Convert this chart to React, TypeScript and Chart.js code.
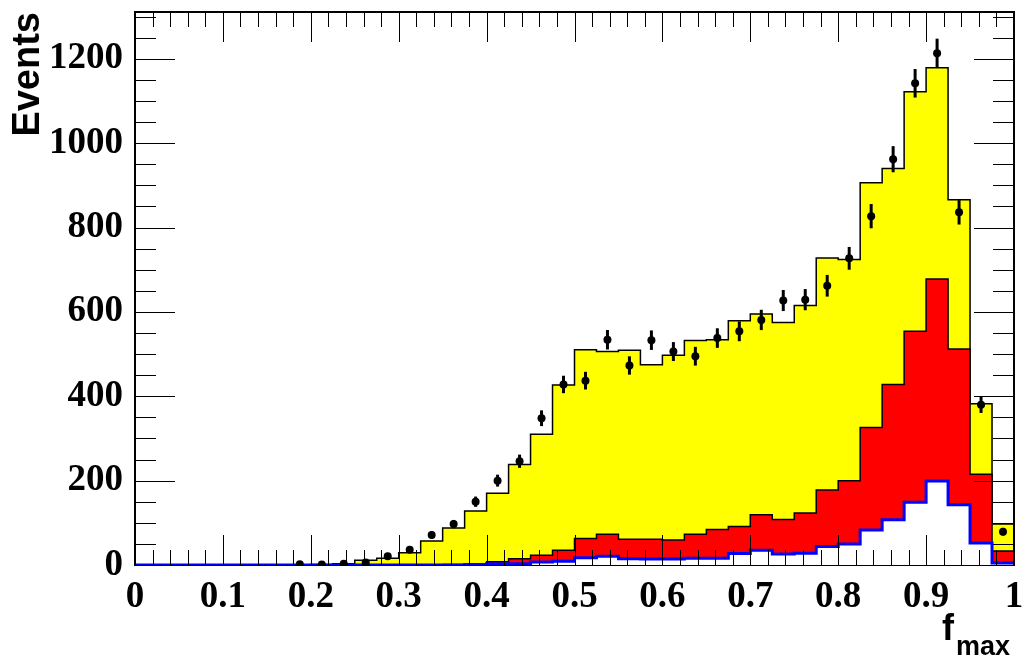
import React, { useEffect, useRef } from "react";
import { Chart, registerables } from "chart.js";

Chart.register(...registerables);

// Bin edges of the f_max histogram (40 bins)
const binEdges = [
  0, 0.025, 0.05, 0.075, 0.1, 0.125, 0.15, 0.175, 0.2, 0.225,
  0.25, 0.275, 0.3, 0.325, 0.35, 0.375, 0.4, 0.425, 0.45, 0.475,
  0.5, 0.525, 0.55, 0.575, 0.6, 0.625, 0.65, 0.675, 0.7, 0.725,
  0.75, 0.775, 0.8, 0.825, 0.85, 0.875, 0.9, 0.925, 0.95, 0.975, 1.0,
];

// Total MC (yellow)
const totalMC = [
  0, 0, 0, 0, 0, 0, 0, 0, 1, 3,
  11, 16, 29, 57, 88, 128, 170, 238, 310, 427,
  510, 506, 509, 475, 497, 532, 534, 579, 595, 575,
  615, 728, 724, 906, 940, 1122, 1179, 866, 382, 97,
];

// Middle component (red)
const redMC = [
  0, 0, 0, 0, 0, 0, 0, 0, 0, 0,
  0, 0, 0, 0, 1, 2, 8, 15, 23, 35,
  63, 73, 61, 61, 59, 73, 84, 91, 119, 108,
  123, 178, 200, 326, 428, 554, 678, 512, 215, 33,
];

// Bottom component (blue outline, white fill)
const blueMC = [
  0, 0, 0, 0, 0, 0, 0, 0, 0, 0,
  0, 0, 0, 0, 0, 1, 3, 3, 7, 9,
  17, 21, 15, 14, 14, 16, 16, 27, 35, 26,
  28, 44, 50, 83, 107, 149, 199, 143, 52, 5,
];

// Data points and their errors
const dataCounts: (number | null)[] = [
  null, null, null, null, null, null, null, 2, 1, 3,
  6, 21, 36, 71, 97, 150, 200, 246, 348, 428,
  437, 534, 473, 533, 506, 495, 538, 554, 581, 627,
  629, 662, 727, 827, 962, 1142, 1213, 836, 380, 79,
];
const dataErrors: (number | null)[] = [
  null, null, null, null, null, null, null, 1.4, 1, 1.7,
  2.4, 4.6, 6, 8.4, 9.8, 12.2, 14.1, 15.7, 18.7, 20.7,
  20.9, 23.1, 21.7, 23.1, 22.5, 22.2, 23.2, 23.5, 24.1, 25,
  25.1, 25.7, 27, 28.8, 31, 33.8, 34.8, 28.9, 19.5, 8.9,
];

const xMajorTicks = [0, 0.1, 0.2, 0.3, 0.4, 0.5, 0.6, 0.7, 0.8, 0.9, 1];
const yMajorTicks = [0, 200, 400, 600, 800, 1000, 1200];

function histPoints(vals: number[]) {
  return binEdges.map((x, i) => ({ x, y: vals[Math.min(i, vals.length - 1)] }));
}

function binCenter(i: number) {
  return (binEdges[i] + binEdges[i + 1]) / 2;
}

const errorBarPlugin = {
  id: "errorBars",
  afterDatasetsDraw(chart: any) {
    const { ctx, chartArea, scales } = chart;
    const xs = scales.x;
    const ys = scales.y;
    ctx.save();
    ctx.beginPath();
    ctx.rect(chartArea.left, chartArea.top, chartArea.right - chartArea.left, chartArea.bottom - chartArea.top);
    ctx.clip();
    ctx.strokeStyle = "#000";
    ctx.lineWidth = 3;
    dataCounts.forEach((v, i) => {
      const e = dataErrors[i];
      if (v == null || e == null) return;
      const cx = xs.getPixelForValue(binCenter(i));
      ctx.beginPath();
      ctx.moveTo(cx, ys.getPixelForValue(v - e));
      ctx.lineTo(cx, ys.getPixelForValue(v + e));
      ctx.stroke();
    });
    ctx.restore();
  },
};

const framePlugin = {
  id: "rootFrame",
  beforeDatasetsDraw(chart: any) {
    const { ctx, chartArea } = chart;
    const { left, right, top, bottom } = chartArea;
    ctx.save();
    ctx.strokeStyle = "#000";
    ctx.lineWidth = 2;
    ctx.strokeRect(left, top, right - left, bottom - top);
    ctx.restore();
  },
  afterDraw(chart: any) {
    const { ctx, chartArea, scales } = chart;
    const xs = scales.x;
    const ys = scales.y;
    const { left, right, top, bottom } = chartArea;
    ctx.save();
    ctx.strokeStyle = "#000";
    ctx.lineWidth = 1;
    // x ticks (minor 0.02, major 0.1)
    for (let k = 0; k <= 50; k++) {
      const v = k * 0.02;
      const px = Math.round(xs.getPixelForValue(v)) + 0.5;
      const len = k % 5 === 0 ? 30 : 15;
      ctx.beginPath();
      ctx.moveTo(px, bottom);
      ctx.lineTo(px, bottom - len);
      ctx.moveTo(px, top);
      ctx.lineTo(px, top + len);
      ctx.stroke();
    }
    // y ticks (minor 50, major 200)
    for (let k = 0; k * 50 <= ys.max; k++) {
      const v = k * 50;
      const py = Math.round(ys.getPixelForValue(v)) + 0.5;
      const len = k % 4 === 0 ? 40 : 21;
      ctx.beginPath();
      ctx.moveTo(left, py);
      ctx.lineTo(left + len, py);
      ctx.moveTo(right, py);
      ctx.lineTo(right - len, py);
      ctx.stroke();
    }
    // frame: left, top, right edges on top
    ctx.lineWidth = 2;
    ctx.beginPath();
    ctx.moveTo(left, bottom);
    ctx.lineTo(left, top);
    ctx.lineTo(right, top);
    ctx.lineTo(right, bottom);
    ctx.stroke();
    // x axis title f_max
    ctx.fillStyle = "#000";
    ctx.textAlign = "left";
    ctx.textBaseline = "alphabetic";
    ctx.font = 'bold 36px "Liberation Sans", Arial, sans-serif';
    ctx.fillText("f", 942, 640);
    ctx.font = 'bold 27px "Liberation Sans", Arial, sans-serif';
    ctx.fillText("max", 956, 655);
    ctx.restore();
  },
};

export default function App() {
  const canvasRef = useRef<HTMLCanvasElement | null>(null);

  useEffect(() => {
    const canvas = canvasRef.current;
    if (!canvas) return;
    const tickFont = { family: '"Liberation Serif", "Times New Roman", serif', size: 37, weight: "bold" as const };
    const chart = new Chart(canvas, {
      type: "line",
      data: {
        datasets: [
          {
            type: "scatter" as any,
            data: dataCounts
              .map((v, i) => (v == null ? null : { x: binCenter(i), y: v }))
              .filter((p) => p !== null) as any,
            pointRadius: 4,
            pointBackgroundColor: "#000",
            pointBorderColor: "#000",
            pointBorderWidth: 0,
            showLine: false,
            order: 0,
          } as any,
          {
            data: histPoints(blueMC),
            stepped: "before",
            borderColor: "#0000ff",
            borderWidth: 3,
            backgroundColor: "#ffffff",
            fill: "origin",
            pointRadius: 0,
            order: 1,
          } as any,
          {
            data: histPoints(redMC),
            stepped: "before",
            borderColor: "#000000",
            borderWidth: 1.5,
            backgroundColor: "#ff0000",
            fill: "origin",
            pointRadius: 0,
            order: 2,
          } as any,
          {
            data: histPoints(totalMC),
            stepped: "before",
            borderColor: "#000000",
            borderWidth: 1.5,
            backgroundColor: "#ffff00",
            fill: "origin",
            pointRadius: 0,
            order: 3,
          } as any,
        ],
      },
      options: {
        responsive: false,
        animation: false,
        devicePixelRatio: 1,
        events: [],
        layout: { padding: { top: 12, right: 12, left: 0, bottom: 0 } },
        plugins: {
          legend: { display: false },
          tooltip: { enabled: false },
        },
        scales: {
          x: {
            type: "linear",
            min: 0,
            max: 1,
            afterFit: (s: any) => {
              s.height = 92;
              s.paddingLeft = 0;
              s.paddingRight = 0;
            },
            afterBuildTicks: (s: any) => {
              s.ticks = xMajorTicks.map((v) => ({ value: v }));
            },
            grid: { display: false, drawTicks: false },
            border: { display: false },
            ticks: {
              autoSkip: false,
              maxRotation: 0,
              padding: 10,
              color: "#000",
              font: tickFont,
              callback: (v: any) => String(Math.round(Number(v) * 10) / 10),
            },
          },
          y: {
            type: "linear",
            min: 0,
            max: 1311,
            afterFit: (s: any) => {
              s.width = 135;
              s.paddingTop = 0;
              s.paddingBottom = 0;
            },
            afterBuildTicks: (s: any) => {
              s.ticks = yMajorTicks.map((v) => ({ value: v }));
            },
            grid: { display: false, drawTicks: false },
            border: { display: false },
            ticks: {
              padding: 12,
              color: "#000",
              font: tickFont,
              callback: (v: any) => String(v),
            },
            title: {
              display: true,
              text: "Events",
              align: "end",
              color: "#000",
              padding: { top: 6, bottom: 0 },
              font: { family: '"Liberation Sans", Arial, sans-serif', size: 38, weight: "bold" },
            },
          },
        },
      },
      plugins: [errorBarPlugin, framePlugin],
    });
    return () => chart.destroy();
  }, []);

  return (
    <div style={{ position: "absolute", left: 0, top: 0, width: 1026, height: 657, background: "#fff" }}>
      <canvas ref={canvasRef} width={1026} height={657} />
    </div>
  );
}
